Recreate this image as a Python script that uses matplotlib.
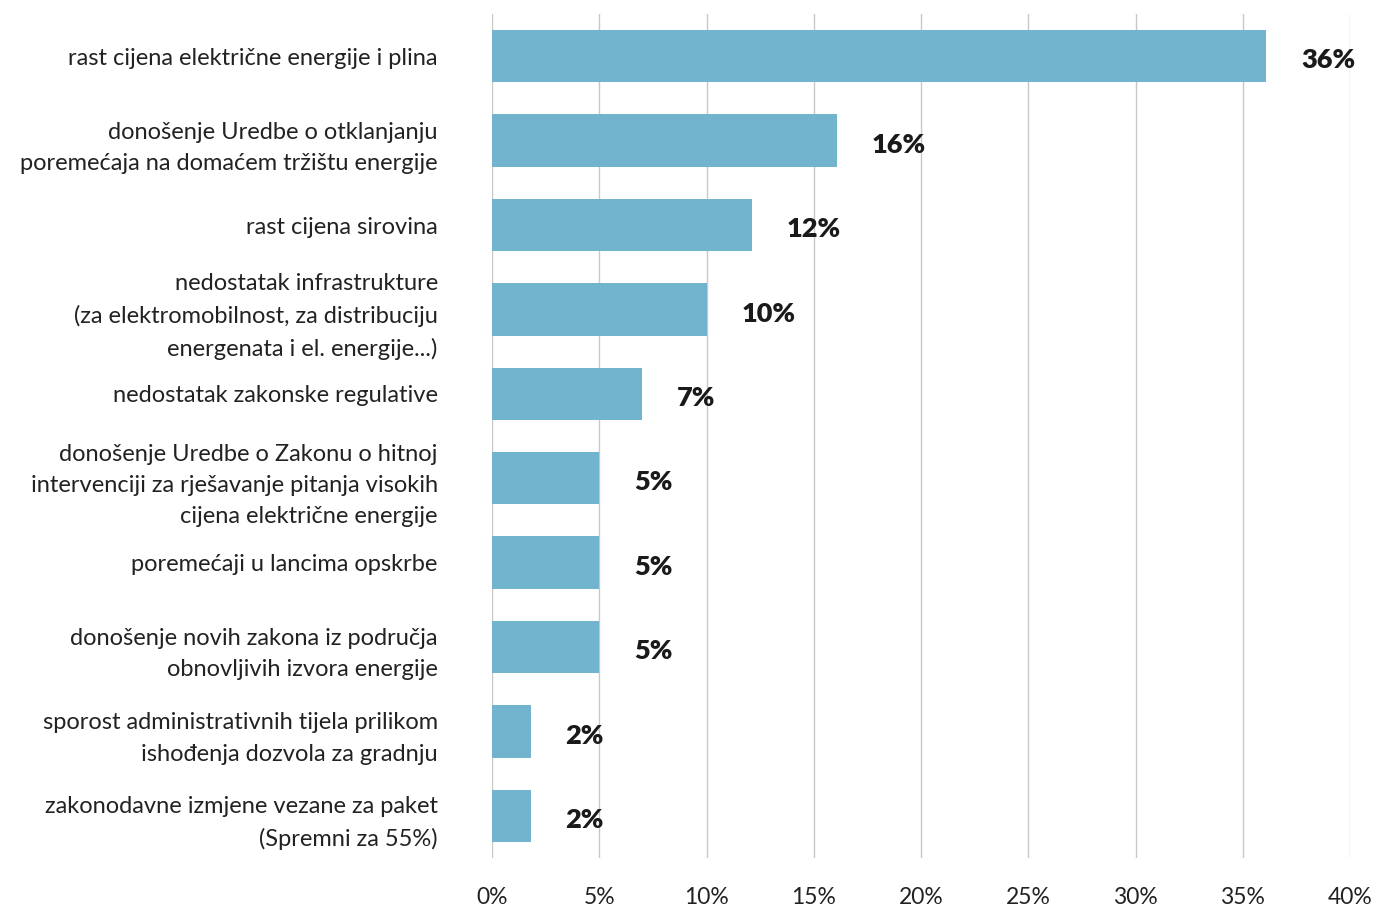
import matplotlib.pyplot as plt
import numpy as np

plt.rcParams['font.family'] = ['Lato', 'DejaVu Sans']

categories = [
    'rast cijena električne energije i plina',
    'donošenje Uredbe o otklanjanju\nporemećaja na domaćem tržištu energije',
    'rast cijena sirovina',
    'nedostatak infrastrukture\n(za elektromobilnost, za distribuciju\nenergenata i el. energije...)',
    'nedostatak zakonske regulative',
    'donošenje Uredbe o Zakonu o hitnoj\nintervenciji za rješavanje pitanja visokih\ncijena električne energije',
    'poremećaji u lancima opskrbe',
    'donošenje novih zakona iz područja\nobnovljivih izvora energije',
    'sporost administrativnih tijela prilikom\nishođenja dozvola za gradnju',
    'zakonodavne izmjene vezane za paket\n(Spremni za 55%)',
]
values = [36.1, 16.1, 12.1, 10.0, 7.0, 5.0, 5.0, 5.0, 1.8, 1.8]
value_labels = ['36%', '16%', '12%', '10%', '7%', '5%', '5%', '5%', '2%', '2%']
xticks = [0, 5, 10, 15, 20, 25, 30, 35, 40]

fig = plt.figure(figsize=(13.74, 9.06), dpi=100)
ax = fig.add_axes([492 / 1374, 48 / 906, 858 / 1374, 844 / 906])

y = np.arange(len(categories))
ax.barh(y, values, height=0.62, color='#72B3CE', zorder=2)
for yi, v, lab in zip(y, values, value_labels):
    ax.annotate(lab, (v, yi), xytext=(25, -3), textcoords='offset points',
                va='center', ha='left', fontsize=19.5, fontweight='heavy',
                color='#1a1a1a')

ax.set_xlim(0, 40)
ax.set_ylim(len(categories) - 0.5, -0.5)
ax.set_xticks(xticks)
ax.set_xticklabels([f'{t}%' for t in xticks], fontsize=16.5, color='#222222')
ax.set_yticks(y)
ax.set_yticklabels(categories, fontsize=17, color='#222222', linespacing=1.6)
ax.tick_params(axis='y', length=0, pad=39)
ax.tick_params(axis='x', length=0, pad=21)
ax.grid(axis='x', color='#c8c8c8', linewidth=1, zorder=0)
for s in ax.spines.values():
    s.set_visible(False)

fig.savefig('out.png', dpi=100)
